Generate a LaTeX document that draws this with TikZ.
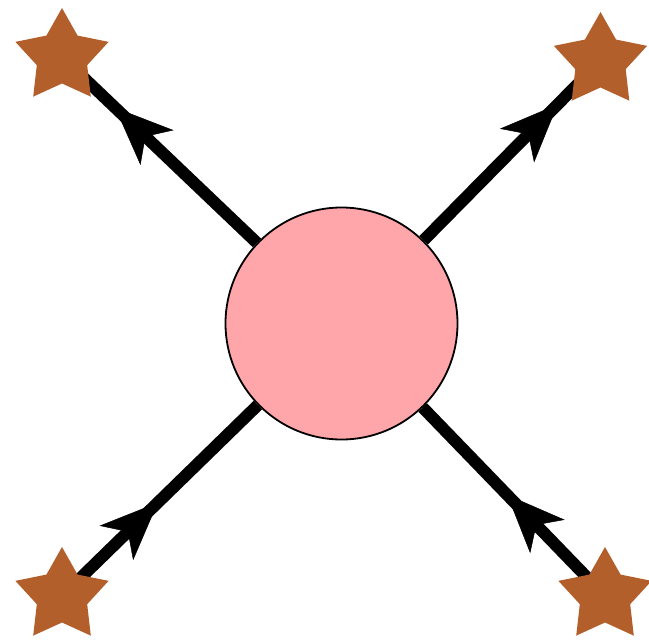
\documentclass[tikz,border=0pt]{standalone}
\usetikzlibrary{shapes.geometric,arrows.meta,decorations.markings,backgrounds}
\definecolor{blobpink}{RGB}{255,166,170}
\definecolor{starbrown}{RGB}{179,95,43}
\begin{document}
\begin{tikzpicture}[x=1pt,y=-1pt,
  blob/.style={circle,draw=black,line width=1.8pt,fill=blobpink,minimum size=232pt,inner sep=0pt},
  extstar/.style={star,star points=5,star point ratio=1.85,fill=starbrown,minimum size=98pt,inner sep=0pt},
  fline/.style={line width=12pt,black},
  arrowat/.style={decoration={markings,mark=at position #1 with {\arrow{Stealth[length=58pt,width=48pt,inset=16pt,line width=0.5pt]}}},postaction={decorate}}]
  \useasboundingbox (0,0) rectangle (649,640);
  \node[blob] (c) at (341.5,323.5) {};
  \node[extstar] (s1) at (62,57) {};
  \node[extstar] (s2) at (600.5,61) {};
  \node[extstar] (s3) at (62,596) {};
  \node[extstar] (s4) at (605,596) {};
  \begin{pgfonlayer}{background}
    \draw[fline,arrowat=196pt] (c) -- (s1.center);
    \draw[fline,arrowat=191pt] (c) -- (s2.center);
    \draw[fline,arrowat=-139.5pt] (s3.center) -- (c);
    \draw[fline,arrowat=-121.4pt] (s4.center) -- (c);
  \end{pgfonlayer}
\end{tikzpicture}
\end{document}
